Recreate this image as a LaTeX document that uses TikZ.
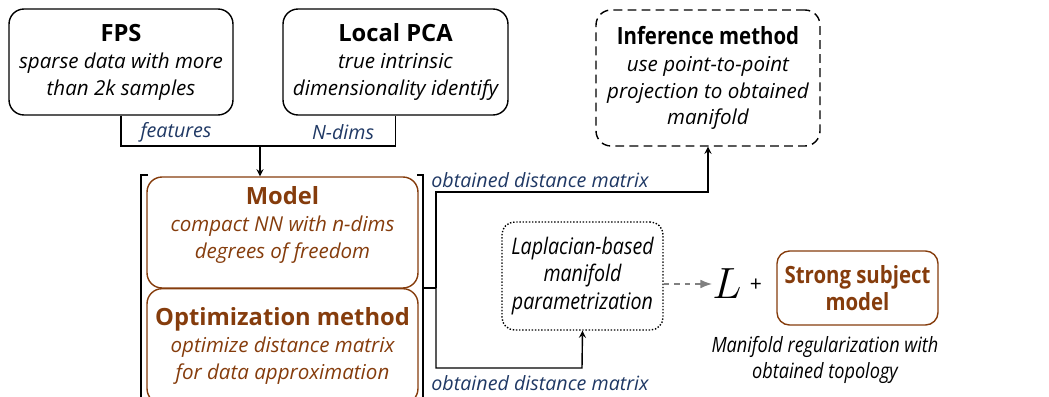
\documentclass[tikz,border=0pt]{standalone}
\usepackage{fontspec}
\setmainfont{Open Sans}
\newfontfamily\nrw{Open Sans}[FakeStretch=0.86]
\usepackage{xcolor}
\usetikzlibrary{shapes,positioning,arrows.meta}
\definecolor{brn}{RGB}{133,60,12}
\definecolor{dblue}{RGB}{31,56,100}
\tikzset{blk/.style={rectangle,rounded corners=0.3cm,draw,thick,align=center,inner sep=0.1cm,font=\fontsize{11.7}{15.3}\selectfont\itshape},
brbox/.style={blk,draw=brn,text=brn},
lbl/.style={text=dblue,font=\fontsize{11.2}{14}\selectfont\itshape,inner sep=0pt}}
\newcommand{\ttl}[1]{{\upshape\bfseries\fontsize{13.5}{15}\selectfont #1}}

\begin{document}
\begin{tikzpicture}[>=stealth,x=0.02cm,y=-0.02cm]
        \clip (0,0) rectangle (1049,396);
        \node[blk,minimum width=4.48cm,minimum height=2.12cm] (fps)at (121,62) {\ttl{FPS}\\sparse data with more\\than 2k samples};
        \node[blk,minimum width=4.5cm,minimum height=2.12cm] (pca)at (395.5,62) {\ttl{Local PCA}\\true intrinsic\\dimensionality identify};
        \node[brbox,minimum width=5.42cm,minimum height=2.22cm] (mdl)at (282.5,232.5) {\ttl{Model}\\compact NN with n-dims\\degrees of freedom\\[-4pt]};
        \node[brbox,minimum width=5.42cm,minimum height=2.3cm,anchor=north] (opt)at (282.5,288) {\ttl{Optimization method}\\optimize distance matrix\\for data approximation};
        \node[blk,dash pattern=on 5pt off 3pt,minimum width=4.48cm,minimum height=2.72cm] (inf)at (708,78) {\ttl{\nrw Inference method}\\use point-to-point\\projection to obtained\\manifold};
        \node[blk,densely dotted,rounded corners=0.25cm,minimum width=3.22cm,minimum height=2.16cm,font=\fontsize{13}{15.5}\selectfont\nrw\itshape] (lap)at (582.5,276) {Laplacian-based\\manifold\\parametrization};
        \node[inner sep=0pt] (L)at (727,284) {\fontsize{30}{30}\selectfont$L$};
        \node[inner sep=0pt] (plus)at (756,285) {\fontsize{12}{12}\selectfont +};
        \node[brbox,minimum width=3.22cm,minimum height=1.48cm,rounded corners=0.25cm] (ssm)at (857.5,288) {\ttl{\nrw Strong subject}\\\ttl{\nrw model}};
        \node[align=center,font=\fontsize{12}{14.5}\selectfont\nrw\itshape] (cap)at (825,360) {Manifold regularization with\\obtained topology};

        \coordinate (j)at (260,146);
        \coordinate (sp)at (436,288);
        \coordinate (t)at (708,192);
        \coordinate (b)at (582,368);

        \draw [thick] (fps.south) |- (j) -| (pca.south);
        \draw [thick,->] (j) to (j |- mdl.north);
        \node[lbl] (f)at (176,132) {features};
        \node[lbl] (n)at (343,132) {N-dims};

        \draw [thick] (148,175) -- (141,175) -- (141,400);
        \draw [thick] (417,175) -- (423,175) -- (423,400);
        \draw [thick] (423,288) to (sp);
        \draw [thick,->] (sp) |- (t) to (inf.south);
        \draw [thick,->] (sp) |- (b) to (lap.south);
        \node[lbl] (m1)at (540,180) {obtained distance matrix};
        \node[lbl] (m2)at (540,383) {obtained distance matrix};
        \draw [thick,dashed,gray,-{Latex}] (L.west -| lap.east) to (L.west);
    \end{tikzpicture}
\end{document}
